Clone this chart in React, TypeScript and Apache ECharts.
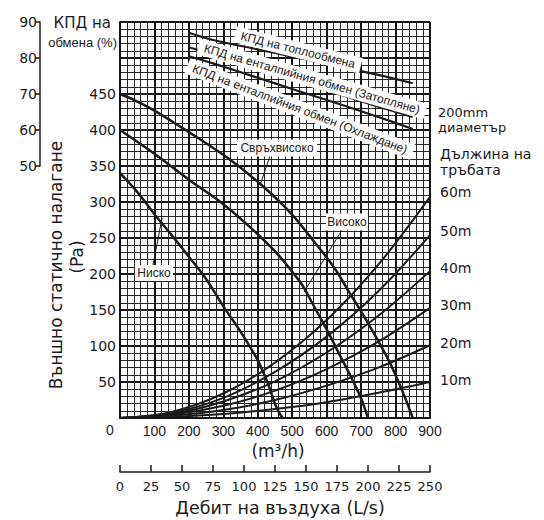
import React, { useEffect, useRef } from "react";
import * as echarts from "echarts";

// Fan curves (flow m3/h -> external static pressure Pa)
const lowFlow = [0, 50, 100, 150, 200, 250, 300, 350, 400, 430, 455, 472];
const lowPa = [340, 314, 283, 254, 224, 193, 155, 120, 80, 47, 14, 0];
const highFlow = [0, 100, 200, 300, 380, 455, 500, 530, 560, 600, 645, 675, 700, 720];
const highPa = [400, 367, 331, 297, 264, 229, 203, 184, 158, 123, 81, 53, 27, 0];
const superFlow = [0, 40, 100, 200, 310, 405, 495, 560, 620, 670, 700, 775, 815, 850];
const superPa = [450, 442, 427, 397, 362, 326, 285, 247, 210, 171, 148, 85, 43, 0];

// Duct resistance curves (200mm diameter) by length
const ductFlow = [0, 150, 300, 450, 600, 750, 900];
const duct10 = [0, 1.5, 5.5, 12.5, 22, 35, 50];
const duct20 = [0, 3, 11, 25, 45, 70, 101];
const duct30 = [0, 4.5, 17, 38, 68, 106, 153];
const duct40 = [0, 5.5, 23, 51, 91, 142, 204];
const duct50 = [0, 7, 28, 64, 113, 176, 254];
const duct60 = [0, 8.5, 34, 77, 136, 213, 307];
const ductLabels = ["10m", "20m", "30m", "40m", "50m", "60m"];

// Exchange efficiency (%)
const effFlow = [200, 270, 400, 500, 650, 750, 850];
const effHeat = [87, 85, 82.4, 80.4, 77.4, 75.3, 73];
const effWarm = [83, 81, 77, 74, 69.5, 66.5, 63.6];
const effCool = [80.5, 78.5, 74.5, 71.4, 66.8, 63.6, 60.3];

const NARROW = "'Liberation Sans', Arial, Helvetica, sans-serif";
const WIDE = "'DejaVu Sans', Verdana, sans-serif";
const INK = "#1c1a1a";

const pairs = (xs: number[], ys: number[]) => xs.map((x, i) => [x, ys[i]]);

function lineSeries(data: number[][], width: number, gridIdx: number) {
  return {
    type: "line",
    xAxisIndex: gridIdx,
    yAxisIndex: gridIdx,
    data,
    smooth: 0.35,
    showSymbol: false,
    symbol: "none",
    silent: true,
    lineStyle: { color: INK, width },
    z: 3,
  };
}

function txt(x: number, y: number, text: string, size: number, font: string, extra: any = {}) {
  return {
    type: "text",
    x,
    y,
    z: 20,
    style: {
      text,
      fontSize: size,
      fontFamily: font,
      fill: INK,
      align: "left",
      verticalAlign: "middle",
      ...extra,
    },
  };
}

function callout(cx: number, cy: number, w: number, h: number, label: string, lx1: number, ly1: number, lx2: number, ly2: number) {
  return [
    {
      type: "line",
      z: 19,
      shape: { x1: lx1, y1: ly1, x2: lx2, y2: ly2 },
      style: { stroke: INK, lineWidth: 1 },
    },
    {
      type: "rect",
      z: 20,
      shape: { x: cx - w / 2, y: cy - h / 2, width: w, height: h },
      style: { fill: "#fff" },
    },
    txt(cx, cy, label, 12, NARROW, { align: "center" }),
  ];
}

function ribbon(cx: number, cy: number, deg: number, label: string) {
  return {
    type: "text",
    x: cx,
    y: cy,
    rotation: (-deg * Math.PI) / 180,
    z: 20,
    style: {
      text: label,
      fontSize: 12,
      fontFamily: NARROW,
      fill: INK,
      align: "center",
      verticalAlign: "middle",
      backgroundColor: "#fff",
      padding: [2, 6, 2, 6],
    },
  };
}

export default function App() {
  const ref = useRef<HTMLDivElement>(null);
  useEffect(() => {
    if (!ref.current) return;
    const chart = echarts.init(ref.current, undefined, { renderer: "svg" });
    const majorLine = { color: "#151515", width: 2 };
    const minorLine = { color: "#262626", width: 1 };
    const ductRows = [duct10, duct20, duct30, duct40, duct50, duct60];
    const ductY = [380, 343, 305, 268, 231, 192];
    const option: any = {
      animation: false,
      backgroundColor: "#fff",
      textStyle: { fontFamily: NARROW },
      grid: [
        { left: 120, right: 114, top: 22, bottom: 102, outerBoundsMode: "none" },
        { left: 120, right: 114, top: 22, bottom: 354, outerBoundsMode: "none" },
        { left: 120, right: 114, top: 440, bottom: 48, outerBoundsMode: "none" },
        { left: 40, width: 1, top: 22, bottom: 354, outerBoundsMode: "none" },
      ],
      xAxis: [
        {
          gridIndex: 0,
          type: "value",
          min: 0,
          max: 900,
          interval: 100,
          axisLine: { show: true, onZero: false, lineStyle: { color: "#151515", width: 2 } },
          axisTick: { show: false },
          minorTick: { show: false, splitNumber: 5 },
          splitLine: { show: true, lineStyle: majorLine },
          minorSplitLine: { show: true, lineStyle: minorLine },
          axisLabel: {
            margin: 6,
            fontSize: 14,
            color: INK,
            fontFamily: NARROW,
            formatter: (v: number) => (v === 0 ? "" : String(v)),
          },
        },
        { gridIndex: 1, type: "value", min: 0, max: 900, show: false },
        {
          gridIndex: 2,
          type: "value",
          min: 0,
          max: 250,
          interval: 25,
          axisLine: { show: true, onZero: false, lineStyle: { color: INK, width: 1.5 } },
          axisTick: { show: true, inside: true, length: 7, lineStyle: { color: INK, width: 1.5 } },
          splitLine: { show: false },
          axisLabel: { margin: 8, fontSize: 13, color: INK, fontFamily: WIDE },
        },
        { gridIndex: 3, type: "value", min: 0, max: 1, show: false },
      ],
      yAxis: [
        {
          gridIndex: 0,
          type: "value",
          min: 0,
          max: 550,
          interval: 50,
          axisLine: { show: true, onZero: false, lineStyle: { color: "#151515", width: 2 } },
          axisTick: { show: false },
          minorTick: { show: false, splitNumber: 5 },
          splitLine: { show: true, lineStyle: majorLine },
          minorSplitLine: { show: true, lineStyle: minorLine },
          axisLabel: {
            margin: 4,
            fontSize: 14,
            color: INK,
            fontFamily: WIDE,
            formatter: (v: number) => (v === 0 || v >= 500 ? "" : String(v)),
          },
        },
        { gridIndex: 1, type: "value", min: 50, max: 90, show: false },
        { gridIndex: 2, type: "value", show: false, min: 0, max: 1 },
        {
          gridIndex: 3,
          type: "value",
          min: 50,
          max: 90,
          interval: 10,
          axisLine: { show: true, onZero: false, lineStyle: { color: INK, width: 1.5 } },
          axisTick: { show: true, length: 5, lineStyle: { color: INK, width: 1.5 } },
          splitLine: { show: false },
          axisLabel: { margin: 3, fontSize: 14, color: INK, fontFamily: WIDE },
        },
      ],
      series: [
        lineSeries(pairs(lowFlow, lowPa), 2.5, 0),
        lineSeries(pairs(highFlow, highPa), 2.5, 0),
        lineSeries(pairs(superFlow, superPa), 2.5, 0),
        ...ductRows.map((r) => lineSeries(pairs(ductFlow, r), 2, 0)),
        lineSeries(pairs(effFlow, effHeat), 2.2, 1),
        lineSeries(pairs(effFlow, effWarm), 2.2, 1),
        lineSeries(pairs(effFlow, effCool), 2.2, 1),
      ],
      graphic: [
        txt(111, 23, "КПД на", 15, WIDE, { align: "right" }),
        txt(117, 42, "обмена (%)", 13, NARROW, { align: "right" }),
        {
          type: "text",
          x: 56,
          y: 265,
          rotation: Math.PI / 2,
          z: 20,
          style: {
            text: "Външно статично налагане",
            fontSize: 17,
            fontFamily: WIDE,
            fill: INK,
            align: "center",
            verticalAlign: "middle",
          },
        },
        {
          type: "text",
          x: 77,
          y: 257,
          rotation: Math.PI / 2,
          z: 20,
          style: {
            text: "(Pa)",
            fontSize: 17,
            fontFamily: WIDE,
            fill: INK,
            align: "center",
            verticalAlign: "middle",
          },
        },
        txt(110, 430, "0", 14, NARROW, { align: "center" }),
        txt(278, 451, "(m³/h)", 17, WIDE, { align: "center" }),
        txt(280, 508, "Дебит на въздуха (L/s)", 17.5, WIDE, { align: "center" }),
        txt(438, 112, "200mm", 13, WIDE),
        txt(438, 127, "диаметър", 13, WIDE),
        txt(440, 154, "Дължина на", 14, WIDE),
        txt(440, 170, "тръбата", 14, WIDE),
        ...ductLabels.map((l, i) => txt(440, ductY[i], l, 14, WIDE)),
        ...callout(277, 148, 80, 17, "Свръхвисоко", 270, 156, 260, 185),
        ...callout(347, 222, 42, 17, "Високо", 342, 230, 304, 292),
        ...callout(154, 273, 38, 16, "Ниско", 153, 265, 162, 218),
        ribbon(298, 50, 14, "КПД на топлообмена"),
        ribbon(312, 79, 16, "КПД на енталпийния обмен (Затопляне)"),
        ribbon(300, 109, 21, "КПД на енталпийния обмен (Охлаждане)"),
      ],
    };
    chart.setOption(option);
    return () => chart.dispose();
  }, []);
  return (
    <div
      ref={ref}
      style={{ position: "absolute", left: 0, top: 0, width: 544, height: 520 }}
    />
  );
}
